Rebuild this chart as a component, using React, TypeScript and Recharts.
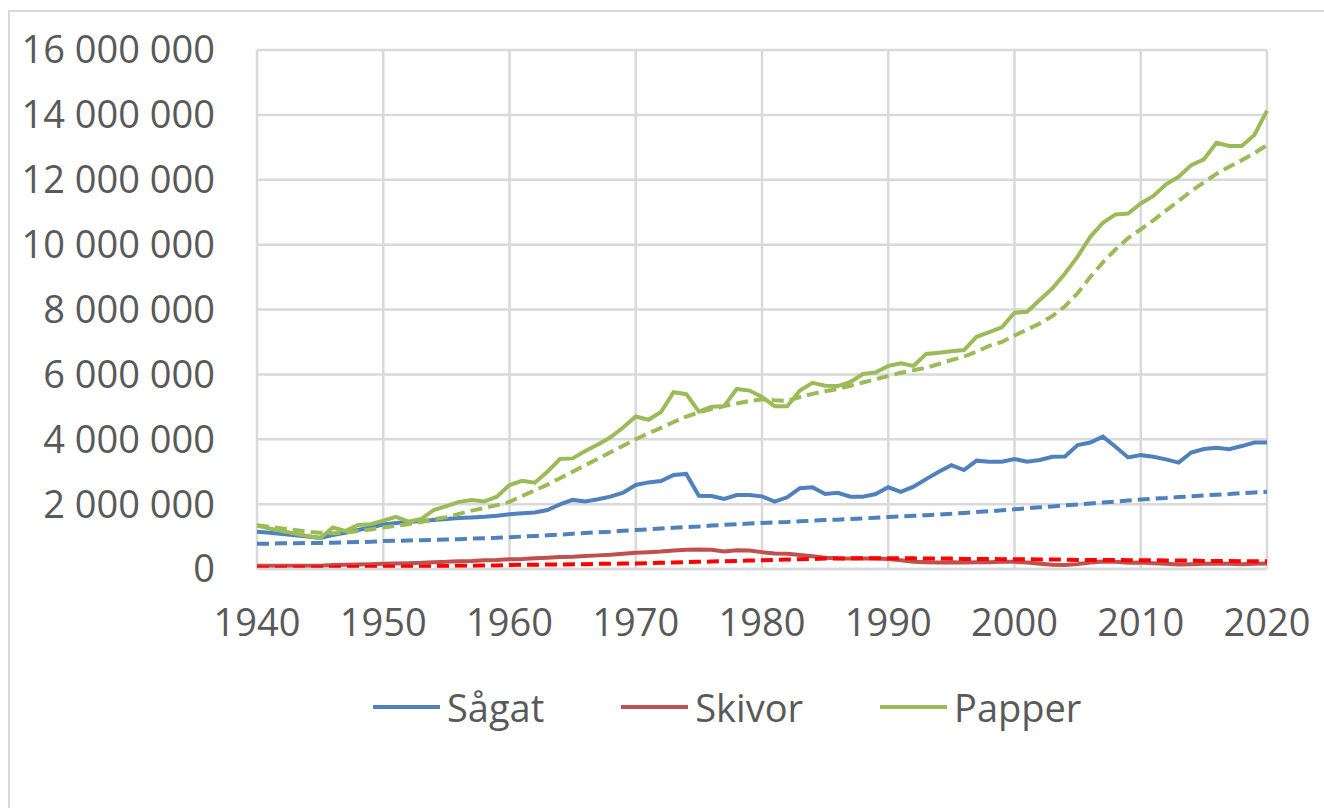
import React from 'react';
import { LineChart, Line, XAxis, YAxis, CartesianGrid } from 'recharts';

// Årtal 1940–2020, värden i miljoner
const years = Array.from({ length: 81 }, (_, i) => 1940 + i);

const sagat = [
  1.15, 1.12, 1.08, 1.04, 1.0, 0.96, 1.05, 1.12, 1.2, 1.28,
  1.37, 1.42, 1.45, 1.48, 1.51, 1.54, 1.57, 1.59, 1.61, 1.64,
  1.69, 1.72, 1.74, 1.82, 1.99, 2.13, 2.08, 2.15, 2.23, 2.35,
  2.59, 2.67, 2.71, 2.9, 2.93, 2.26, 2.25, 2.16, 2.28, 2.28,
  2.24, 2.08, 2.21, 2.49, 2.52, 2.31, 2.35, 2.23, 2.23, 2.31,
  2.52, 2.38, 2.54, 2.77, 3.0, 3.2, 3.05, 3.34, 3.31, 3.31,
  3.39, 3.31, 3.36, 3.46, 3.47, 3.82, 3.9, 4.08, 3.77, 3.44,
  3.51, 3.46, 3.38, 3.28, 3.59, 3.7, 3.74, 3.69, 3.79, 3.9,
  3.9,
];

const sagatTrend = [
  0.78, 0.78, 0.79, 0.79, 0.8, 0.8, 0.81, 0.82, 0.83, 0.84,
  0.86, 0.87, 0.88, 0.89, 0.9, 0.91, 0.92, 0.94, 0.95, 0.96,
  0.98, 1.0, 1.02, 1.04, 1.06, 1.09, 1.11, 1.13, 1.15, 1.18,
  1.2, 1.22, 1.25, 1.27, 1.29, 1.31, 1.34, 1.36, 1.38, 1.4,
  1.42, 1.44, 1.45, 1.47, 1.49, 1.51, 1.52, 1.54, 1.56, 1.58,
  1.6, 1.62, 1.64, 1.66, 1.68, 1.7, 1.73, 1.76, 1.78, 1.81,
  1.84, 1.87, 1.9, 1.93, 1.96, 1.99, 2.02, 2.05, 2.08, 2.11,
  2.14, 2.17, 2.19, 2.22, 2.24, 2.27, 2.29, 2.31, 2.34, 2.36,
  2.38,
];

const skivor = [
  0.1, 0.1, 0.1, 0.1, 0.1, 0.1, 0.12, 0.13, 0.14, 0.15,
  0.16, 0.17, 0.18, 0.19, 0.21, 0.22, 0.24, 0.25, 0.27, 0.28,
  0.3, 0.31, 0.33, 0.35, 0.37, 0.38, 0.4, 0.42, 0.44, 0.47,
  0.5, 0.52, 0.54, 0.57, 0.59, 0.6, 0.59, 0.54, 0.58, 0.57,
  0.52, 0.48, 0.47, 0.43, 0.39, 0.35, 0.33, 0.32, 0.32, 0.32,
  0.31, 0.27, 0.22, 0.21, 0.2, 0.21, 0.2, 0.21, 0.21, 0.22,
  0.22, 0.2, 0.16, 0.13, 0.12, 0.15, 0.2, 0.23, 0.22, 0.19,
  0.2, 0.18, 0.16, 0.14, 0.15, 0.16, 0.17, 0.16, 0.15, 0.16,
  0.17,
];

const skivorTrend = [
  0.04, 0.04, 0.04, 0.05, 0.05, 0.05, 0.05, 0.06, 0.06, 0.06,
  0.07, 0.07, 0.08, 0.08, 0.09, 0.09, 0.1, 0.1, 0.11, 0.11,
  0.12, 0.13, 0.13, 0.14, 0.14, 0.15, 0.15, 0.16, 0.16, 0.17,
  0.17, 0.18, 0.19, 0.2, 0.21, 0.22, 0.23, 0.24, 0.25, 0.26,
  0.27, 0.28, 0.29, 0.3, 0.31, 0.32, 0.32, 0.33, 0.33, 0.33,
  0.33, 0.33, 0.33, 0.32, 0.32, 0.32, 0.31, 0.31, 0.31, 0.3,
  0.3, 0.3, 0.29, 0.29, 0.29, 0.28, 0.28, 0.28, 0.28, 0.27,
  0.27, 0.27, 0.26, 0.26, 0.26, 0.25, 0.25, 0.25, 0.24, 0.24,
  0.24,
];

const papper = [
  1.34, 1.25, 1.17, 1.09, 1.02, 0.95, 1.28, 1.17, 1.36, 1.38,
  1.49, 1.61, 1.46, 1.54, 1.82, 1.94, 2.07, 2.13, 2.08, 2.23,
  2.59, 2.72, 2.66, 3.0, 3.39, 3.41, 3.64, 3.84, 4.06, 4.36,
  4.7, 4.6, 4.84, 5.45, 5.39, 4.85, 5.0, 5.02, 5.55, 5.5,
  5.3, 5.02, 5.02, 5.5, 5.74, 5.65, 5.64, 5.77, 6.01, 6.06,
  6.26, 6.34, 6.26, 6.63, 6.67, 6.71, 6.75, 7.16, 7.3, 7.45,
  7.9, 7.93, 8.29, 8.65, 9.11, 9.63, 10.24, 10.67, 10.93, 10.96,
  11.27, 11.5, 11.86, 12.09, 12.45, 12.63, 13.14, 13.04, 13.04, 13.38,
  14.13,
];

const papperTrend = [
  1.35, 1.3, 1.25, 1.2, 1.15, 1.12, 1.1, 1.12, 1.17, 1.22,
  1.28, 1.33, 1.38, 1.45, 1.53, 1.6, 1.7, 1.8, 1.88, 1.97,
  2.07, 2.25, 2.42, 2.6, 2.8, 3.0, 3.2, 3.4, 3.6, 3.8,
  4.0, 4.18, 4.35, 4.53, 4.7, 4.83, 4.93, 5.02, 5.1, 5.18,
  5.23, 5.2, 5.18, 5.3, 5.4, 5.48, 5.55, 5.65, 5.75, 5.85,
  5.95, 6.05, 6.13, 6.2, 6.32, 6.44, 6.55, 6.7, 6.88, 7.0,
  7.2, 7.38, 7.57, 7.8, 8.1, 8.5, 9.0, 9.45, 9.85, 10.2,
  10.47, 10.75, 11.05, 11.35, 11.65, 11.92, 12.18, 12.4, 12.6, 12.82,
  13.07,
];

const xTicks = [1940, 1950, 1960, 1970, 1980, 1990, 2000, 2010, 2020];
const yTicks = [0, 2, 4, 6, 8, 10, 12, 14, 16];

const legendItems = [
  { name: 'Sågat', color: '#4F81BD' },
  { name: 'Skivor', color: '#C0504D' },
  { name: 'Papper', color: '#9BBB59' },
];

const data = years.map((year, i) => ({
  year,
  sagat: sagat[i],
  sagatTrend: sagatTrend[i],
  skivor: skivor[i],
  skivorTrend: skivorTrend[i],
  papper: papper[i],
  papperTrend: papperTrend[i],
}));

const FONT = '"Open Sans", sans-serif';
const TEXT = '#595959';
const GRID = '#D9D9D9';
const FS = 38;

const formatMillions = (v: number) =>
  String(Math.round(v * 1000000)).replace(/\B(?=(\d{3})+(?!\d))/g, ' ');

export default function App() {
  return (
    <div style={{ position: 'absolute', left: 0, top: 0, width: 1324, height: 808, fontFamily: FONT, background: '#fff' }}>
      <div
        style={{
          position: 'absolute',
          left: 8,
          top: 10,
          width: 1316,
          height: 798,
          boxSizing: 'border-box',
          borderLeft: `2px solid ${GRID}`,
          borderTop: `2px solid ${GRID}`,
        }}
      />
      <div style={{ position: 'absolute', left: 0, top: 0 }}>
        <LineChart width={1324} height={808} data={data} margin={{ top: 50, right: 57, bottom: 179, left: 17 }}>
          <CartesianGrid stroke={GRID} strokeWidth={2.5} />
          <XAxis
            dataKey="year"
            type="number"
            domain={[1940, 2020]}
            ticks={xTicks}
            height={60}
            axisLine={{ stroke: GRID, strokeWidth: 2.5 }}
            tickLine={false}
            tickSize={0}
            tickMargin={40}
            tick={{ fill: TEXT, fontSize: FS, fontFamily: FONT }}
          />
          <YAxis
            type="number"
            domain={[0, 16]}
            ticks={yTicks}
            width={240}
            axisLine={false}
            tickLine={false}
            tickSize={0}
            tickMargin={42}
            tickFormatter={formatMillions}
            tick={{ fill: TEXT, fontSize: FS, fontFamily: FONT }}
          />
          <Line dataKey="sagat" stroke="#4F81BD" strokeWidth={4} dot={false} isAnimationActive={false} />
          <Line dataKey="sagatTrend" stroke="#4F81BD" strokeWidth={4} strokeDasharray="12 6" dot={false} isAnimationActive={false} />
          <Line dataKey="skivor" stroke="#C0504D" strokeWidth={4} dot={false} isAnimationActive={false} />
          <Line dataKey="skivorTrend" stroke="#FF0000" strokeWidth={4} strokeDasharray="12 6" dot={false} isAnimationActive={false} />
          <Line dataKey="papper" stroke="#9BBB59" strokeWidth={4} dot={false} isAnimationActive={false} />
          <Line dataKey="papperTrend" stroke="#9BBB59" strokeWidth={4} strokeDasharray="12 6" dot={false} isAnimationActive={false} />
        </LineChart>
      </div>
      <div style={{ position: 'absolute', left: 373, top: 681, display: 'flex', alignItems: 'center', color: TEXT, fontSize: FS }}>
        {legendItems.map((item) => (
          <div key={item.name} style={{ display: 'flex', alignItems: 'center', marginRight: 77 }}>
            <svg width={67} height={8} style={{ marginRight: 7 }}>
              <line x1={0} y1={4} x2={67} y2={4} stroke={item.color} strokeWidth={4} />
            </svg>
            <span>{item.name}</span>
          </div>
        ))}
      </div>
    </div>
  );
}
